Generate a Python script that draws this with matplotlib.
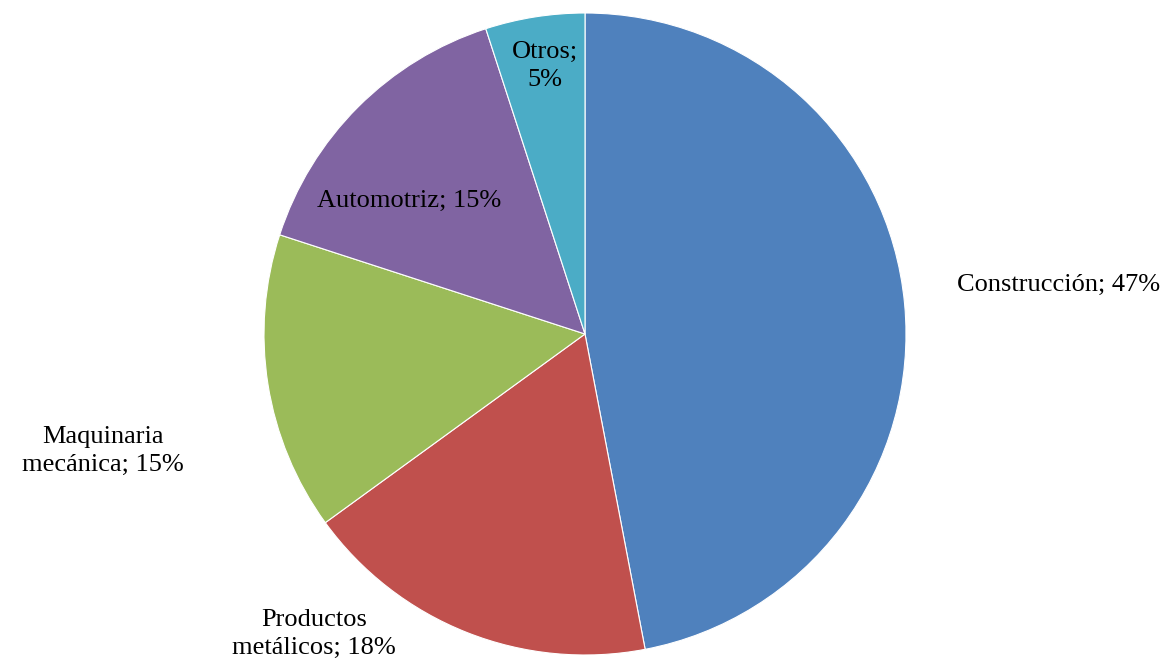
import matplotlib.pyplot as plt

# sector shares (%), clockwise from 12 o'clock
labels = ['Construcción; 47%', 'Productos\nmetálicos; 18%', 'Maquinaria\nmecánica; 15%',
          'Automotriz; 15%', 'Otros;\n5%']
values = [47, 18, 15, 15, 5]
colors = ['#4F81BD', '#C0504D', '#9BBB59', '#8064A2', '#4BACC6']

# label anchor points in pixels (x from left, y from top)
label_pos = [(1059, 285), (314, 634), (103, 451), (409, 201), (545, 66)]

plt.rcParams['font.family'] = ['Liberation Serif', 'DejaVu Serif']

W, H = 1164, 662
fig = plt.figure(figsize=(W / 100, H / 100), dpi=100)
ax = fig.add_axes([0, 0, 1, 1])

ax.pie(values, colors=colors, startangle=90, counterclock=False,
       center=(585, H - 334), radius=321,
       wedgeprops=dict(edgecolor='white', linewidth=0.8))

for txt, (x, y) in zip(labels, label_pos):
    ax.text(x, H - y, txt, ha='center', va='center', fontsize=19,
            linespacing=1.4, multialignment='center')

ax.set_xlim(0, W)
ax.set_ylim(0, H)
ax.set_aspect('equal')
ax.axis('off')

fig.savefig('out.png', dpi=100, facecolor='white')
